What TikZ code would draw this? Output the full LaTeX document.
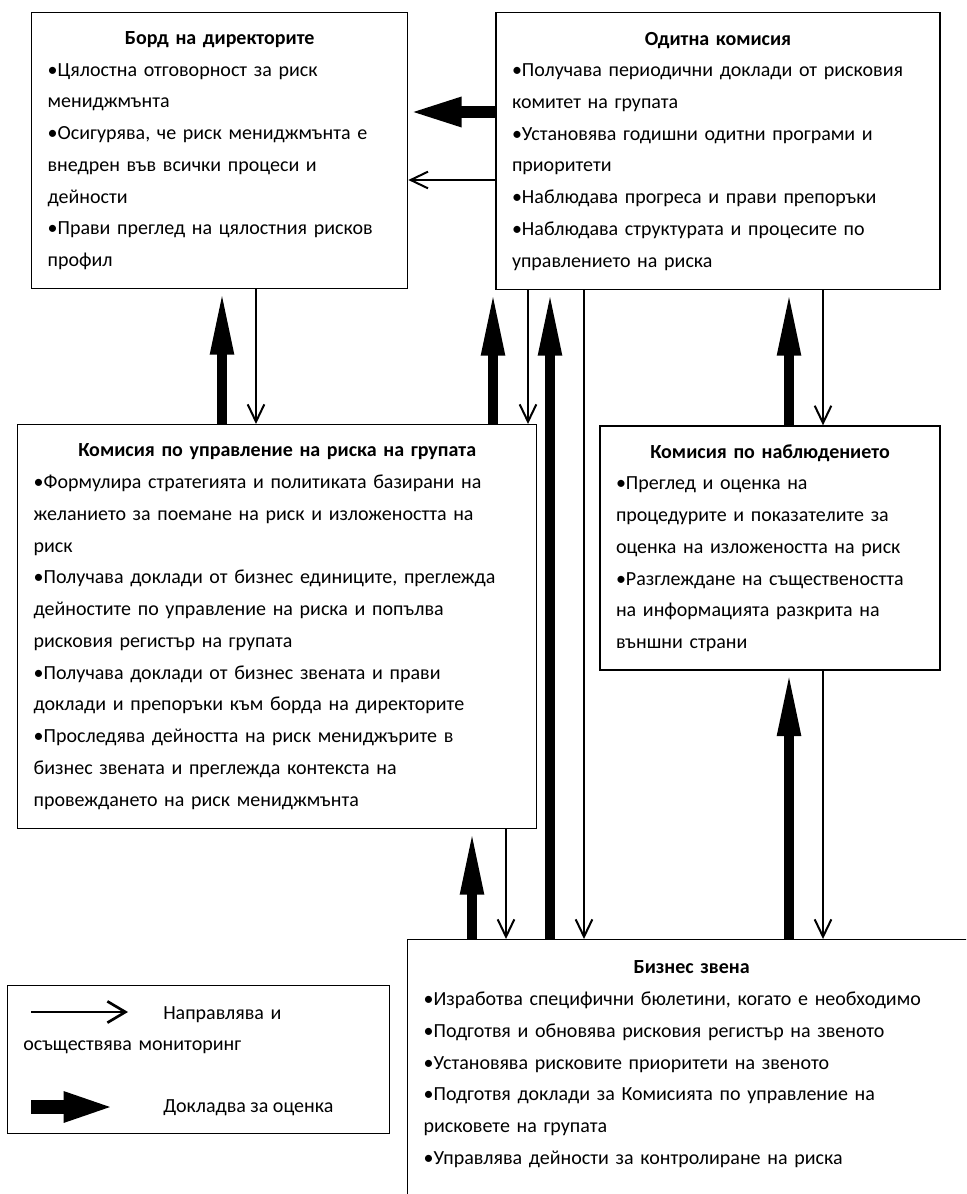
\documentclass[tikz,border=0pt]{standalone}
\usepackage{fontspec}
\setmainfont{Carlito}
\usepackage{tikz}
\usetikzlibrary{arrows.meta, positioning}
\tikzset{
  basebox/.style={
    rectangle, draw=black, line width=1pt, align=left, anchor=north west,
    font=\fontsize{15}{23.8}\selectfont, inner xsep=12pt, inner ysep=0pt
  },
  boardbox/.style={basebox, text width=258pt, minimum height=207pt},
  auditbox/.style={basebox, text width=309pt, minimum height=207.75pt},
  riskbox/.style={basebox, text width=365.25pt, minimum height=303pt},
  watchbox/.style={basebox, text width=231pt, minimum height=183pt},
  unitbox/.style={basebox, text width=402pt, inner ysep=16pt},
  legendbox/.style={rectangle, draw=black, line width=1pt, anchor=north west,
    minimum width=286.5pt, minimum height=111pt, inner sep=0pt},
  legendtext/.style={font=\fontsize{15}{23.8}\selectfont, inner sep=0pt, align=left},
  directarrow/.style={-{Straight Barb[length=13pt,width=12.5pt]}, line width=1.5pt},
  reportarrow/.style={-{Triangle[length=49pt,width=16pt]}, line width=7.5pt}
}
\newcommand{\boxhead}[1]{{\centering\bfseries #1\par}}

\begin{document}
\begin{tikzpicture}[x=0.75pt, y=-0.75pt]
  \useasboundingbox (0,0) rectangle (966,1194);
  \clip (0,0) rectangle (966,1194);

  \node[boardbox] (board) at (31,12)
        {\boxhead{Борд на директорите}
         •Цялостна отговорност за риск\\
         мениджмънта\\
         •Осигурява, че риск мениджмънта е\\
         внедрен във всички процеси и\\
         дейности\\
         •Прави преглед на цялостния рисков\\
         профил};
  \node[auditbox, right=65.25pt of board.north east, anchor=north west] (audit)
        {\boxhead{Одитна комисия}
         •Получава периодични доклади от рисковия\\
         комитет на групата\\
         •Установява годишни одитни програми и\\
         приоритети\\
         •Наблюдава прогреса и прави препоръки\\
         •Наблюдава структурата и процесите по\\
         управлението на риска};
  \node[riskbox] (risk) at (17,424)
        {\boxhead{Комисия по управление на риска на групата}
         •Формулира стратегията и политиката базирани на\\
         желанието за поемане на риск и изложеността на\\
         риск\\
         •Получава доклади от бизнес единиците, преглежда\\
         дейностите по управление на риска и попълва\\
         рисковия регистър на групата\\
         •Получава доклади от бизнес звената и прави\\
         доклади и препоръки към борда на директорите\\
         •Проследява дейността на риск мениджърите в\\
         бизнес звената и преглежда контекста на\\
         провеждането на риск мениджмънта};
  \node[watchbox, below=101.25pt of audit.south east, anchor=north east] (watch)
        {\boxhead{Комисия по наблюдението}
         •Преглед и оценка на\\
         процедурите и показателите за\\
         оценка на изложеността на риск\\
         •Разглеждане на съществеността\\
         на информацията разкрита на\\
         външни страни};
  \node[unitbox] (units) at (407,939)
        {\boxhead{Бизнес звена}
         •Изработва специфични бюлетини, когато е необходимо\\
         •Подготвя и обновява рисковия регистър на звеното\\
         •Установява рисковите приоритети на звеното\\
         •Подготвя доклади за Комисията по управление на\\
         рисковете на групата\\
         •Управлява дейности за контролиране на риска\\[40pt]
         \mbox{}};

  % legend
  \node[legendbox] (legend) at (7,985) {};
  \node[legendtext, text width=260pt, anchor=north west] (legdirect) at (23,1006)
        {\hspace*{105pt}Направлява и\\осъществява мониторинг};
  \node[legendtext, anchor=base west] (legreport) at (163,1112) {Докладва за оценка};
  \coordinate (legdirA) at (31,1012);
  \coordinate (legdirB) at (128,1012);
  \coordinate (legrepA) at (31,1107);
  \coordinate (legrepB) at (117,1107);

  % rows and columns of the connectors
  \coordinate (rowrep) at (0,112);
  \coordinate (rowdir) at (0,180);
  \coordinate (colA) at (222,0);
  \coordinate (colB) at (256,0);
  \coordinate (colC) at (493,0);
  \coordinate (colD) at (528,0);
  \coordinate (colE) at (550,0);
  \coordinate (colF) at (584,0);
  \coordinate (colG) at (789,0);
  \coordinate (colH) at (823,0);
  \coordinate (colI) at (472,0);
  \coordinate (colJ) at (506,0);

  % reporting (thick)
  \draw[reportarrow, line width=9pt, -{Triangle[length=40pt,width=20pt]}]
        (audit.west |- rowrep) -- (board.east |- rowrep);
  \draw[reportarrow] (colA |- risk.north) -- (colA |- board.south);
  \draw[reportarrow] (colC |- risk.north) -- (colC |- audit.south);
  \draw[reportarrow] (colE |- units.north) -- (colE |- audit.south);
  \draw[reportarrow] (colG |- watch.north) -- (colG |- audit.south);
  \draw[reportarrow] (colI |- units.north) -- (colI |- risk.south);
  \draw[reportarrow] (colG |- units.north) -- (colG |- watch.south);

  % directing (thin)
  \draw[directarrow] (audit.west |- rowdir) -- (board.east |- rowdir);
  \draw[directarrow] (colB |- board.south) -- (colB |- risk.north);
  \draw[directarrow] (colD |- audit.south) -- (colD |- risk.north);
  \draw[directarrow] (colF |- audit.south) -- (colF |- units.north);
  \draw[directarrow] (colH |- audit.south) -- (colH |- watch.north);
  \draw[directarrow] (colH |- watch.south) -- (colH |- units.north);
  \draw[directarrow] (colJ |- risk.south) -- (colJ |- units.north);

  \draw[directarrow, line width=2pt, -{Straight Barb[length=13.5pt,width=16pt]}]
        (legdirA) -- (legdirB);
  \draw[reportarrow, line width=10.5pt, -{Triangle[length=40pt,width=20pt]}]
        (legrepA) -- (legrepB);
\end{tikzpicture}
\end{document}
